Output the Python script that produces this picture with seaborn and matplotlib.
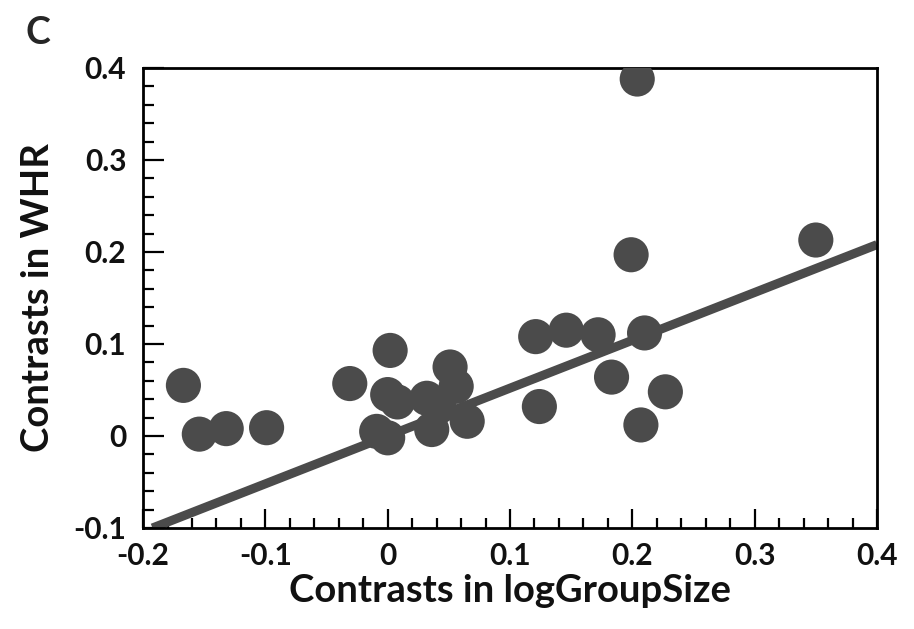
import matplotlib
matplotlib.use("Agg")
import matplotlib.pyplot as plt
from matplotlib.ticker import MultipleLocator, FixedLocator
import seaborn as sns
import pandas as pd
import numpy as np

# Data
log_group_size = [-0.167, -0.154, -0.132, -0.099, -0.031, -0.009, 0.000, 0.000,
                  0.002, 0.008, 0.032, 0.036, 0.042, 0.051, 0.056, 0.065,
                  0.121, 0.124, 0.146, 0.172, 0.183, 0.199, 0.204, 0.207,
                  0.210, 0.227, 0.350]
whr = [0.055, 0.002, 0.008, 0.009, 0.057, 0.005, 0.045, -0.002,
       0.093, 0.037, 0.041, 0.007, 0.032, 0.075, 0.054, 0.016,
       0.108, 0.032, 0.115, 0.110, 0.064, 0.197, 0.388, 0.012,
       0.112, 0.048, 0.213]
fit_slope = 0.52  # regression through origin
x_ticks = [-0.2, -0.1, 0, 0.1, 0.2, 0.3, 0.4]
x_tick_labels = ["-0.2", "-0.1", "0", "0.1", "0.2", "0.3", "0.4"]
y_ticks = [-0.1, 0, 0.1, 0.2, 0.3, 0.4]
y_tick_labels = ["-0.1", "0", "0.1", "0.2", "0.3", "0.4"]

df = pd.DataFrame({"x": log_group_size, "y": whr})

sns.set_style("white")
plt.rcParams["font.family"] = ["Lato", "DejaVu Sans"]

fig = plt.figure(figsize=(9.14, 6.29), dpi=100)
ax = fig.add_axes([0.1565, 0.1606, 0.8030, 0.7313])

mark = "#4b4b4b"
ax.axline((0, 0), slope=fit_slope, color=mark, lw=6.5, solid_capstyle="butt", zorder=2)
sns.scatterplot(data=df, x="x", y="y", ax=ax, s=640, color=mark, edgecolor="none",
                linewidth=0, zorder=3)

ax.set_xlim(-0.2, 0.4)
ax.set_ylim(-0.1, 0.4)
ax.xaxis.set_major_locator(FixedLocator(x_ticks))
ax.yaxis.set_major_locator(FixedLocator(y_ticks))
ax.set_xticklabels(x_tick_labels)
ax.set_yticklabels(y_tick_labels)
ax.xaxis.set_minor_locator(MultipleLocator(0.02))
ax.yaxis.set_minor_locator(MultipleLocator(0.02))
ax.tick_params(axis="both", which="both", direction="in", color="black",
               bottom=True, left=True, top=False, right=False, width=1.6)
ax.tick_params(axis="x", which="major", length=14, pad=10, labelsize=21.5)
ax.tick_params(axis="x", which="minor", length=7)
ax.tick_params(axis="y", which="major", length=15, pad=12, labelsize=21.5)
ax.tick_params(axis="y", which="minor", length=8)
for lab in ax.get_xticklabels() + ax.get_yticklabels():
    lab.set_fontweight("bold")
    lab.set_color("#111111")

for sp in ax.spines.values():
    sp.set_visible(True)
    sp.set_linewidth(2.0)
    sp.set_color("black")

ax.set_xlabel("Contrasts in logGroupSize", fontsize=27.5, fontweight="bold", labelpad=3,
              color="#111111")
ax.set_ylabel("Contrasts in WHR", fontsize=27.5, fontweight="bold", labelpad=13,
              color="#111111")

fig.text(0.028, 0.975, "C", fontsize=27, fontweight="bold", va="top", ha="left")

fig.savefig("out.png", dpi=100)
